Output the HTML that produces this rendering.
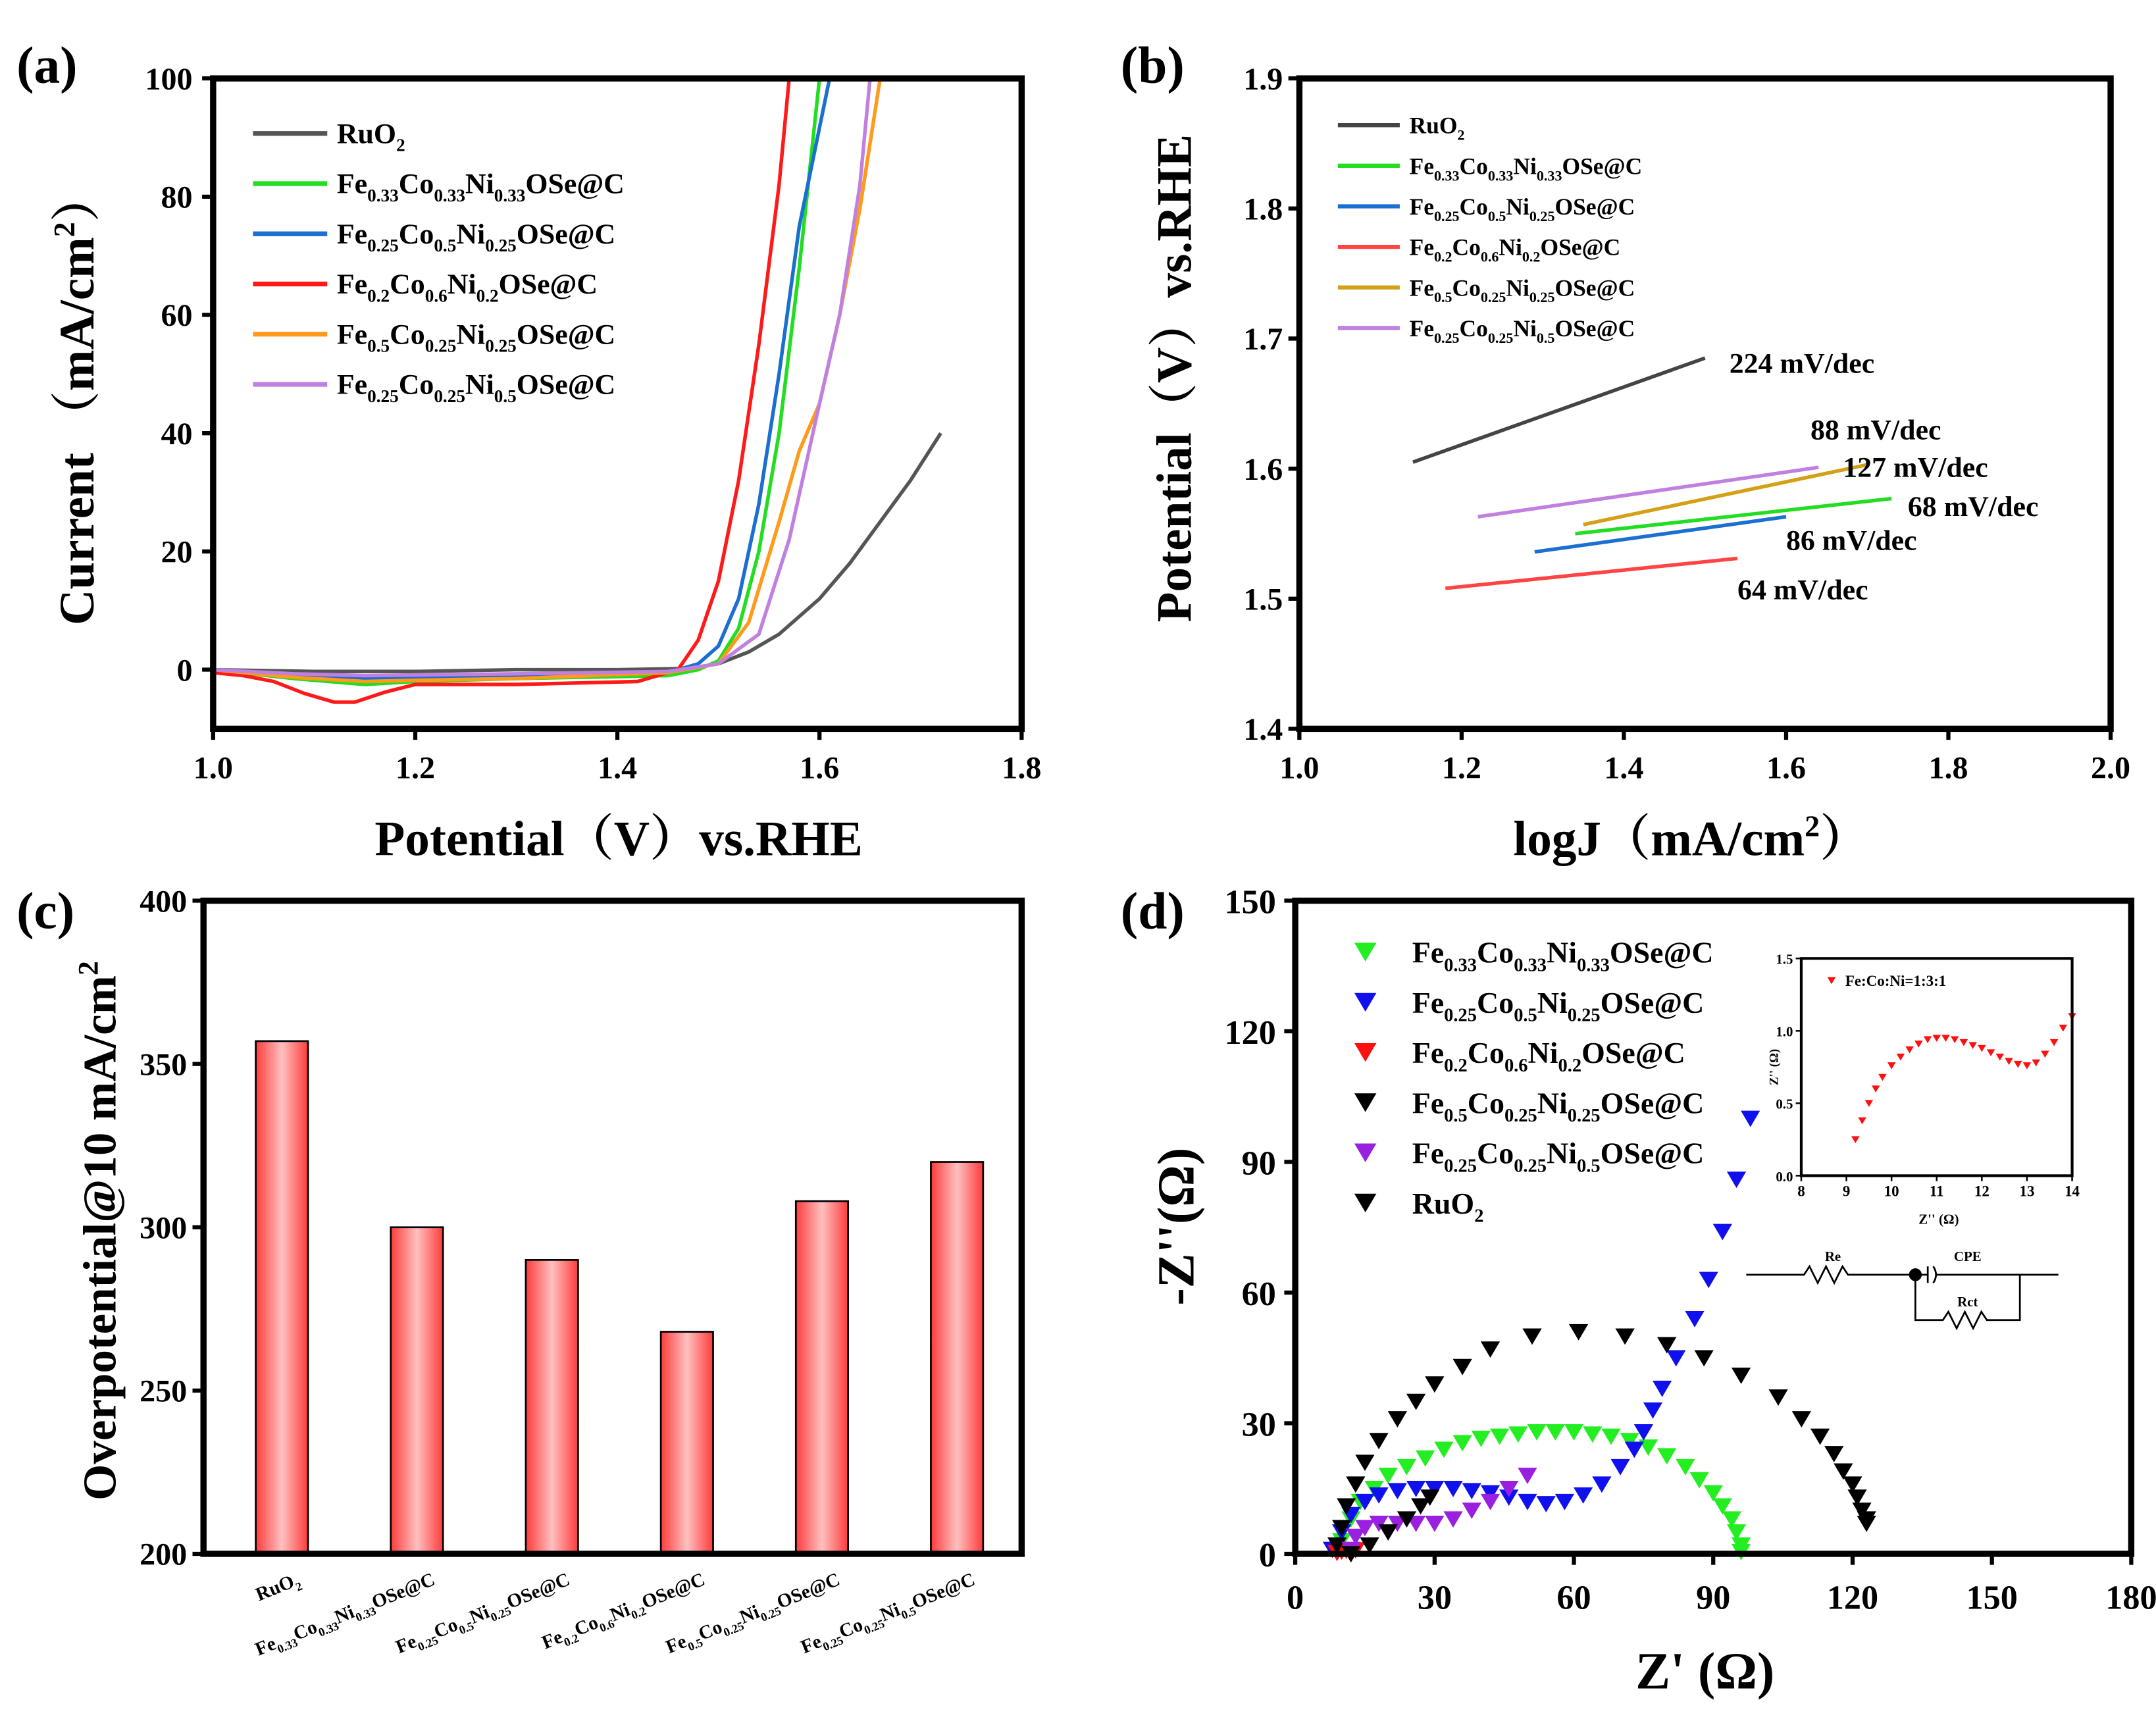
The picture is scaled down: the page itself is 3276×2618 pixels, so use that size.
<!DOCTYPE html>
<html><head><meta charset="utf-8"><style>
html,body{margin:0;padding:0;background:#fff}
svg{display:block;font-family:"Liberation Serif","Noto Serif CJK SC",serif;font-weight:bold}
</style></head><body>
<svg id="fig" width="3276" height="2618" viewBox="0 0 1568 1253" xmlns="http://www.w3.org/2000/svg">
<rect width="1568" height="1253" fill="#fff"/>
</svg>
<script>
// ---------- data ----------
const lsvNames = ["RuO|2","Fe|0.33|Co|0.33|Ni|0.33|OSe@C","Fe|0.25|Co|0.5|Ni|0.25|OSe@C","Fe|0.2|Co|0.6|Ni|0.2|OSe@C","Fe|0.5|Co|0.25|Ni|0.25|OSe@C","Fe|0.25|Co|0.25|Ni|0.5|OSe@C"];
const lsvColors = ["#555555","#22dd22","#1a6fd0","#ff1a1a","#ff9a1a","#c080e0"];
const lsvV = [
 [1.0,1.1,1.2,1.3,1.4,1.47,1.5,1.53,1.56,1.6,1.63,1.66,1.69,1.72],
 [1.0,1.08,1.15,1.2,1.3,1.45,1.48,1.5,1.52,1.54,1.56,1.58,1.6],
 [1.0,1.08,1.15,1.2,1.3,1.45,1.48,1.5,1.52,1.54,1.56,1.58,1.61],
 [1.0,1.03,1.06,1.09,1.12,1.14,1.17,1.2,1.3,1.42,1.45,1.46,1.48,1.5,1.52,1.54,1.56,1.57],
 [1.0,1.08,1.15,1.2,1.3,1.45,1.5,1.53,1.56,1.58,1.6,1.62,1.64,1.66],
 [1.0,1.08,1.15,1.2,1.3,1.45,1.5,1.54,1.57,1.6,1.62,1.64,1.65]
];
const lsvI = [
 [0,-0.3,-0.3,0,0,0.2,1,3,6,12,18,25,32,40],
 [0,-1.5,-2.5,-2,-1.5,-1,0,1.5,7,20,40,68,100],
 [0,-1,-1.5,-1.3,-1,-0.5,1,4,12,28,50,75,100],
 [-0.5,-1,-2,-4,-5.5,-5.5,-3.8,-2.5,-2.5,-2,-0.5,0,5,15,32,55,82,100],
 [0,-1.3,-2,-1.8,-1.5,-0.5,1,8,25,37,45,60,78,100],
 [0,-0.7,-1,-0.9,-0.7,-0.3,1,6,22,45,60,82,100]
];
const tafelNames = ["RuO|2","Fe|0.33|Co|0.33|Ni|0.33|OSe@C","Fe|0.25|Co|0.5|Ni|0.25|OSe@C","Fe|0.2|Co|0.6|Ni|0.2|OSe@C","Fe|0.5|Co|0.25|Ni|0.25|OSe@C","Fe|0.25|Co|0.25|Ni|0.5|OSe@C"];
const tafelColors = ["#444444","#22dd22","#1a6fd0","#ff4444","#d4a017","#c080e0"];
const tafelX1 = [1.14,1.34,1.29,1.18,1.35,1.22];
const tafelY1 = [1.605,1.550,1.536,1.508,1.557,1.563];
const tafelX2 = [1.50,1.73,1.60,1.54,1.70,1.64];
const tafelY2 = [1.685,1.577,1.563,1.531,1.603,1.601];
const slopeLabels = ["224 mV/dec","68 mV/dec","86 mV/dec","64 mV/dec","127 mV/dec","88 mV/dec"];
const slopeLX = [1.53,1.75,1.60,1.54,1.67,1.63];
const slopeLY = [1.68,1.570,1.544,1.506,1.600,1.629];
const barCats = ["RuO|2","Fe|0.33|Co|0.33|Ni|0.33|OSe@C","Fe|0.25|Co|0.5|Ni|0.25|OSe@C","Fe|0.2|Co|0.6|Ni|0.2|OSe@C","Fe|0.5|Co|0.25|Ni|0.25|OSe@C","Fe|0.25|Co|0.25|Ni|0.5|OSe@C"];
const barVals = [357,300,290,268,308,320];
const eisNames = ["Fe|0.33|Co|0.33|Ni|0.33|OSe@C","Fe|0.25|Co|0.5|Ni|0.25|OSe@C","Fe|0.2|Co|0.6|Ni|0.2|OSe@C","Fe|0.5|Co|0.25|Ni|0.25|OSe@C","Fe|0.25|Co|0.25|Ni|0.5|OSe@C","RuO|2"];
const eisColors = ["#22ee22","#1010ee","#ff1010","#000000","#9a20e0","#000000"];
const eisX = [
 [10,12,14,17,20,24,28,32,36,40,44,48,52,56,60,64,68,72,76,80,84,87,90,92,94,95,96,96],
 [8,10,12,15,18,22,26,30,34,38,42,46,50,54,58,62,66,70,73,75,77,79,82,86,89,92,95,98],
 [9,10,11,12,13],
 [9,10,11,13,15,18,22,26,30,36,42,51,61,71,80,88,96,104,109,113,116,118,120,121,122,123,123],
 [12,13,15,18,22,26,30,34,38,42,46,50],
 [12,16,20,24,27,29]
];
const eisY = [
 [3,8,12,15,18,20,22,24,25.5,26.5,27,27.5,28,28,28,27.5,27,26,24.5,22.5,20,17,14,11,8,5,2,0.5],
 [1,5,9,12,13.5,14.5,15,15,15,14.5,14,13,12,11.5,12,13.5,16,20,24,28,33,38,45,54,63,74,86,100],
 [0.3,0.6,0.8,0.9,0.9],
 [2,6,11,16,21,26,31,35,39,43,47,50,51,50,48,45,41,36,31,27,23,19,16,13,10,8,7],
 [1,4,6,7,7,7,7,8,10,12,15,18],
 [0,2,5,8,11,13]
];
const insetX = [9.2,9.35,9.5,9.65,9.8,10,10.2,10.4,10.6,10.8,11,11.2,11.4,11.6,11.8,12,12.2,12.4,12.6,12.8,13,13.2,13.4,13.6,13.8,14];
const insetY = [0.25,0.38,0.5,0.6,0.68,0.76,0.82,0.87,0.91,0.94,0.95,0.95,0.94,0.92,0.9,0.88,0.85,0.82,0.79,0.77,0.76,0.78,0.84,0.92,1.02,1.1];

// ---------- helpers ----------
const NS="http://www.w3.org/2000/svg";
const svg=document.getElementById('fig');
function mk(tag,attrs,parent){const e=document.createElementNS(NS,tag);for(const k in attrs)e.setAttribute(k,attrs[k]);(parent||svg).appendChild(e);return e;}
function lin(d0,d1,r0,r1){return v=>r0+(v-d0)/(d1-d0)*(r1-r0);}
function txt(x,y,s,size,anchor,parent){const t=mk('text',{x:x,y:y,'font-size':size,'text-anchor':anchor||'start',fill:'#000'},parent);t.textContent=s;return t;}
function chem(x,y,s,size,anchor,parent){
  const t=mk('text',{x:x,y:y,'font-size':size,'text-anchor':anchor||'start',fill:'#000'},parent);
  const parts=s.split('|');
  parts.forEach((p,i)=>{const ts=document.createElementNS(NS,'tspan');ts.textContent=p;
    if(i%2===1){ts.setAttribute('font-size',size*0.62);ts.setAttribute('dy',size*0.28);}
    else if(i>0){ts.setAttribute('dy',-size*0.28);}
    t.appendChild(ts);});
  return t;}
function frame(x0,y0,x1,y1,name){const r=mk('rect',{x:x0,y:y0,width:x1-x0,height:y1-y0,fill:'none',stroke:'#000','stroke-width':4.5});
  
  
  return r;}
function tri(g,x,y,s,c){return mk('path',{d:`M${x-s} ${y-s*0.8}L${x+s} ${y-s*0.8}L${x} ${y+s*0.9}Z`,fill:c},g);}

// ---------- panel a ----------
(function(){
 const g=mk('g',{});
 
 
 const X=lin(1.0,1.8,155,743),Y=lin(-10,100,530,57);
 txt(12,60,'(a)',38,'start',g);
 lsvV.forEach((vs,k)=>{const p=mk('polyline',{points:vs.map((v,i)=>X(v)+','+Y(lsvI[k][i])).join(' '),fill:'none',stroke:lsvColors[k],'stroke-width':2.6,'stroke-linejoin':'round'},g);
   
   });
 frame(155,57,743,530,'plot-frame-a');
 [0,20,40,60,80,100].forEach(v=>{mk('line',{x1:155,x2:147,y1:Y(v),y2:Y(v),stroke:'#000','stroke-width':3},g);txt(140,Y(v)+8,String(v),23,'end',g);});
 [1.0,1.2,1.4,1.6,1.8].forEach(v=>{mk('line',{x1:X(v),x2:X(v),y1:530,y2:538,stroke:'#000','stroke-width':3},g);txt(X(v),566,v.toFixed(1),23,'middle',g);});
 const yt=mk('text',{x:0,y:0,'font-size':36,'text-anchor':'middle',transform:'translate(68,290) rotate(-90)'},g);yt.innerHTML='Current （mA/cm<tspan font-size="22" dy="-14">2</tspan><tspan dy="14">）</tspan>';
 
 
 const xt=txt(450,622,'Potential（V）vs.RHE',36,'middle',g);
 
 
 lsvNames.forEach((n,k)=>{const y=97+k*36.5;mk('line',{x1:184,x2:238,y1:y,y2:y,stroke:lsvColors[k],'stroke-width':3.5},g);
   const t=chem(245,y+7,n,21,'start',g);
   
   });
})();

// ---------- panel b ----------
(function(){
 const g=mk('g',{});
 
 
 const X=lin(1.0,2.0,945,1535),Y=lin(1.4,1.9,530,57);
 txt(815,60,'(b)',38,'start',g);
 frame(945,57,1535,530,'plot-frame-b');
 [1.4,1.5,1.6,1.7,1.8,1.9].forEach(v=>{mk('line',{x1:945,x2:937,y1:Y(v),y2:Y(v),stroke:'#000','stroke-width':3},g);txt(933,Y(v)+8,v.toFixed(1),23,'end',g);});
 [1.0,1.2,1.4,1.6,1.8,2.0].forEach(v=>{mk('line',{x1:X(v),x2:X(v),y1:530,y2:538,stroke:'#000','stroke-width':3},g);txt(X(v),566,v.toFixed(1),23,'middle',g);});
 tafelX1.forEach((x1,k)=>{const l=mk('line',{x1:X(x1),y1:Y(tafelY1[k]),x2:X(tafelX2[k]),y2:Y(tafelY2[k]),stroke:tafelColors[k],'stroke-width':2.6},g);
   
   
   const t=txt(X(slopeLX[k]),Y(slopeLY[k])+6,slopeLabels[k],21,'start',g);
   
   });
 const yt=mk('text',{x:0,y:0,'font-size':36,'text-anchor':'middle',transform:'translate(866,275) rotate(-90)'},g);yt.textContent='Potential（V）vs.RHE';
 
 
 const xt=mk('text',{x:1230,y:622,'font-size':36,'text-anchor':'middle'},g);xt.innerHTML='logJ（mA/cm<tspan font-size="22" dy="-14">2</tspan><tspan dy="14">）</tspan>';
 
 
 tafelNames.forEach((n,k)=>{const y=91+k*29.5;mk('line',{x1:973,x2:1018,y1:y,y2:y,stroke:tafelColors[k],'stroke-width':3},g);
   const t=chem(1025,y+6,n,17,'start',g);
   
   });
})();

// ---------- panel c ----------
(function(){
 const g=mk('g',{});
 
 
 const Y=lin(200,400,1130,655);const xc=i=>205+i*98.2;
 const defs=mk('defs',{},g);const lg=mk('linearGradient',{id:'bg',x1:0,x2:1,y1:0,y2:0},defs);
 mk('stop',{offset:'0','stop-color':'#ff3b3b'},lg);
 mk('stop',{offset:'0.5','stop-color':'#ffc0c0'},lg);
 mk('stop',{offset:'1','stop-color':'#ff3b3b'},lg);
 barVals.forEach((v,i)=>{const r=mk('rect',{x:xc(i)-19,y:Y(v),width:38,height:1130-Y(v),fill:'url(#bg)',stroke:'#000','stroke-width':1.3},g);
   
   
   const t=chem(0,0,barCats[i],14,'end',g);t.setAttribute('transform',`translate(${xc(i)+14},1152) rotate(-22)`);
   
   });
 frame(148,655,743,1130,'plot-frame-c');
 [200,250,300,350,400].forEach(v=>{mk('line',{x1:148,x2:140,y1:Y(v),y2:Y(v),stroke:'#000','stroke-width':3},g);txt(136,Y(v)+8,String(v),23,'end',g);});
 txt(12,675,'(c)',38,'start',g);
 const yt=mk('text',{x:0,y:0,'font-size':34,'text-anchor':'middle',transform:'translate(84,895) rotate(-90)'},g);yt.innerHTML='Overpotential@10 mA/cm<tspan font-size="21" dy="-13">2</tspan>';
 
 
})();

// ---------- panel d ----------
(function(){
 const g=mk('g',{});
 
 
 const X=lin(0,180,942,1550),Y=lin(0,150,1130,655);
 txt(815,675,'(d)',38,'start',g);
 eisX.forEach((xs,k)=>{const s=mk('g',{},g);
   
   
   xs.forEach((x,i)=>{const p=tri(s,X(x),Y(eisY[k][i]),7,eisColors[k]);
     
     });});
 frame(942,655,1550,1130,'plot-frame-d');
 [0,30,60,90,120,150].forEach(v=>{mk('line',{x1:942,x2:934,y1:Y(v),y2:Y(v),stroke:'#000','stroke-width':3},g);txt(928,Y(v)+9,String(v),25,'end',g);});
 [0,30,60,90,120,150,180].forEach(v=>{mk('line',{x1:X(v),x2:X(v),y1:1130,y2:1138,stroke:'#000','stroke-width':3},g);txt(X(v),1170,String(v),25,'middle',g);});
 const yt=mk('text',{x:0,y:0,'font-size':38,'text-anchor':'middle',transform:'translate(868,892) rotate(-90)'},g);yt.textContent="-Z''(Ω)";
 
 
 const xt=txt(1240,1228,"Z' (Ω)",38,'middle',g);
 
 
 eisNames.forEach((n,k)=>{const y=692+k*36.5;tri(g,993,y,8,eisColors[k]);const t=chem(1027,y+8,n,22,'start',g);
   
   });
 // inset
 const ig=mk('g',{},g);
 
 
 const IX=lin(8,14,1310,1507),IY=lin(0,1.5,855,697);
 insetX.forEach((x,i)=>{const p=tri(ig,IX(x),IY(insetY[i]),3,'#ff1010');
   
   });
 mk('rect',{x:1310,y:697,width:197,height:158,fill:'none',stroke:'#000','stroke-width':2},ig);
 [0,0.5,1.0,1.5].forEach(v=>{mk('line',{x1:1310,x2:1306,y1:IY(v),y2:IY(v),stroke:'#000','stroke-width':1.2},ig);txt(1304,IY(v)+4,v.toFixed(1),10,'end',ig);});
 [8,9,10,11,12,13,14].forEach(v=>{mk('line',{x1:IX(v),x2:IX(v),y1:855,y2:859,stroke:'#000','stroke-width':1.2},ig);txt(IX(v),870,String(v),11,'middle',ig);});
 txt(1410,890,"Z'' (Ω)",10,'middle',ig);
 mk('text',{x:0,y:0,'font-size':9,'text-anchor':'middle',transform:'translate(1293,776) rotate(-90)'},ig).textContent="Z'' (Ω)";
 tri(ig,1332,713,3,'#ff1010');txt(1342,717,'Fe:Co:Ni=1:3:1',11,'start',ig);
 // circuit
 const c=mk('g',{fill:'none',stroke:'#000','stroke-width':1.3},g);
 
 
 mk('path',{d:'M1270 927H1312l4 -6l6 12l6 -12l6 12l6 -12l4 6H1393H1402M1408 927H1497M1393 927V960H1413l4 -6l6 12l6 -12l6 12l6 -12l4 6H1469V927'},c);
 mk('path',{d:'M1402 921V933M1406 921q4 6 0 12'},c);
 mk('circle',{cx:1393,cy:927,r:4,fill:'#000'},c);
 txt(1333,917,'Re',10,'middle',g);txt(1431,917,'CPE',10,'middle',g);txt(1431,950,'Rct',10,'middle',g);
})();
</script>
</body></html>
